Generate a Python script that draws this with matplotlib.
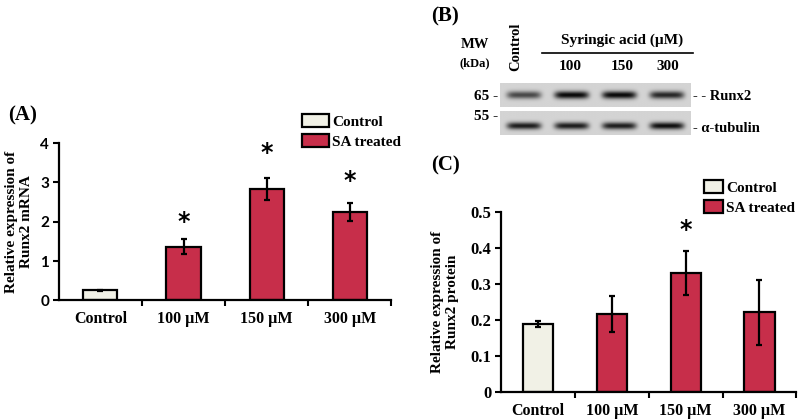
import numpy as np
import matplotlib
matplotlib.use("Agg")
import matplotlib.pyplot as plt
from matplotlib.patches import Patch

# dati
categories = ["Control", "100 \u00b5M", "150 \u00b5M", "300 \u00b5M"]
mrna_vals = [0.25, 1.37, 2.84, 2.25]
mrna_err = [0.02, 0.20, 0.28, 0.24]
mrna_star = [None, 2.0, 3.76, 3.04]
prot_vals = [0.190, 0.218, 0.331, 0.222]
prot_err = [0.009, 0.050, 0.061, 0.091]
prot_star = [None, None, 0.451, None]
lanes = ["100", "150", "300"]
# intensita' delle bande del western blot (0 = fondo, 1 = nero)
runx2_band = [0.55, 0.80, 0.80, 0.68]
tubulin_band = [0.72, 0.72, 0.72, 0.78]

RED = "#C72E4A"
CREAM = "#F1F1E6"
SERIF = ["Liberation Serif", "DejaVu Serif"]

fig = plt.figure(figsize=(7.98, 4.2), dpi=100)


def bar_panel(ax, vals, err, stars, ymax, ystep, tickfont, ticksize):
    x = np.arange(len(vals)) + 0.5
    colors = [CREAM] + [RED] * (len(vals) - 1)
    ax.bar(x, vals, width=0.41, color=colors, edgecolor="black", linewidth=1.6, zorder=2)
    ax.errorbar(x, vals, yerr=err, fmt="none", ecolor="black", elinewidth=1.6,
                capsize=2.5, capthick=1.6, zorder=3)
    for xi, s in zip(x, stars):
        if s is not None:
            ax.text(xi, s, "*", ha="center", va="center", fontsize=17,
                    fontweight="bold", family="DejaVu Sans")
    ax.set_xlim(0, len(vals))
    ax.set_ylim(0, ymax)
    ax.set_yticks(np.arange(0, ymax + ystep / 2, ystep))
    ax.set_xticks(x)
    ax.set_xticklabels(categories, family=SERIF, fontweight="bold", fontsize=11.5)
    ax.set_xticks(np.arange(1, len(vals) + 1), minor=True)
    ax.tick_params(axis="x", which="major", length=0, pad=8)
    ax.tick_params(axis="x", which="minor", length=4, width=1.5, direction="out")
    ax.tick_params(axis="y", length=4, width=1.5, direction="out", pad=3)
    for lab in ax.get_yticklabels():
        lab.set_family(tickfont)
        lab.set_fontweight("bold")
        lab.set_fontsize(ticksize)
    for side in ["top", "right"]:
        ax.spines[side].set_visible(False)
    for side in ["left", "bottom"]:
        ax.spines[side].set_linewidth(1.6)


def legend(x, y, hlen):
    handles = [Patch(facecolor=CREAM, edgecolor="black", linewidth=1.6, label="Control"),
               Patch(facecolor=RED, edgecolor="black", linewidth=1.6, label="SA treated")]
    fig.legend(handles=handles, loc="upper left", bbox_to_anchor=(x, y), frameon=False,
               prop={"family": SERIF, "weight": "bold", "size": 11},
               handlelength=hlen, handleheight=0.9, handletextpad=0.2,
               labelspacing=0.35, borderpad=0, borderaxespad=0)


# (A) mRNA
axA = fig.add_axes([0.0736, 0.285, 0.417, 0.374])
bar_panel(axA, mrna_vals, mrna_err, mrna_star, 4, 1, ["Lato", "DejaVu Sans"], 11)
axA.set_ylabel("Relative expression of\nRunx2 mRNA", family=SERIF, fontweight="bold",
               fontsize=11, labelpad=5, linespacing=1.25)
fig.text(0.010, 0.726, "(A)", family=SERIF, fontweight="bold", fontsize=15, va="center")
legend(0.378, 0.728, 1.8)

# (C) proteina
axC = fig.add_axes([0.628, 0.066, 0.370, 0.4285])
bar_panel(axC, prot_vals, prot_err, prot_star, 0.5, 0.1, SERIF, 12)
axC.set_yticklabels(["0", "0.1", "0.2", "0.3", "0.4", "0.5"])
axC.set_ylabel("Relative expression of\nRunx2 protein", family=SERIF, fontweight="bold",
               fontsize=11, labelpad=8, linespacing=1.25)
fig.text(0.540, 0.607, "(C)", family=SERIF, fontweight="bold", fontsize=15, va="center")
legend(0.8822, 0.571, 1.25)


# (B) western blot, costruito dalle intensita' delle bande
def blot(rect, bands, ypos, thick):
    ax = fig.add_axes(rect)
    nx, ny = 400, 60
    xx = np.linspace(0, len(bands), nx)
    yy = np.linspace(0, 1, ny)
    img = np.full((ny, nx), 0.17)
    for i, b in enumerate(bands):
        prof_x = np.exp(-((xx - (i + 0.5)) / 0.36) ** 6)
        prof_y = np.exp(-((yy - ypos) / thick) ** 2)
        img += b * np.outer(prof_y, prof_x)
    ax.imshow(img, cmap="gray_r", vmin=0, vmax=1, aspect="auto",
              extent=[0, len(bands), 1, 0], interpolation="bilinear")
    ax.set_axis_off()
    return ax


blot([0.627, 0.745, 0.2386, 0.057], runx2_band, 0.50, 0.16)
blot([0.627, 0.679, 0.2386, 0.056], tubulin_band, 0.62, 0.15)

fig.text(0.540, 0.961, "(B)", family=SERIF, fontweight="bold", fontsize=15, va="center")
fig.text(0.595, 0.893, "MW", family=SERIF, fontweight="bold", fontsize=10.5, ha="center", va="center")
fig.text(0.595, 0.850, "(kDa)", family=SERIF, fontweight="bold", fontsize=9, ha="center", va="center")
fig.text(0.646, 0.888, "Control", family=SERIF, fontweight="bold", fontsize=10.5,
         rotation=90, ha="center", va="center")
fig.text(0.779, 0.905, "Syringic acid (\u00b5M)", family=SERIF, fontweight="bold",
         fontsize=11, ha="center", va="center")
fig.add_artist(plt.Line2D([0.679, 0.869], [0.875, 0.875], color="black", lw=1.2))
for lx, lab in zip([0.714, 0.780, 0.837], lanes):
    fig.text(lx, 0.841, lab, family=SERIF, fontweight="bold", fontsize=11, ha="center", va="center")
fig.text(0.624, 0.770, "65 -", family=SERIF, fontweight="bold", fontsize=11, ha="right", va="center")
fig.text(0.624, 0.722, "55 -", family=SERIF, fontweight="bold", fontsize=11, ha="right", va="center")
fig.text(0.869, 0.770, "- - Runx2", family=SERIF, fontweight="bold", fontsize=10.5, ha="left", va="center")
fig.text(0.869, 0.695, "- \u03b1-tubulin", family=SERIF, fontweight="bold", fontsize=10.5, ha="left", va="center")

fig.savefig("out.png", dpi=100)
